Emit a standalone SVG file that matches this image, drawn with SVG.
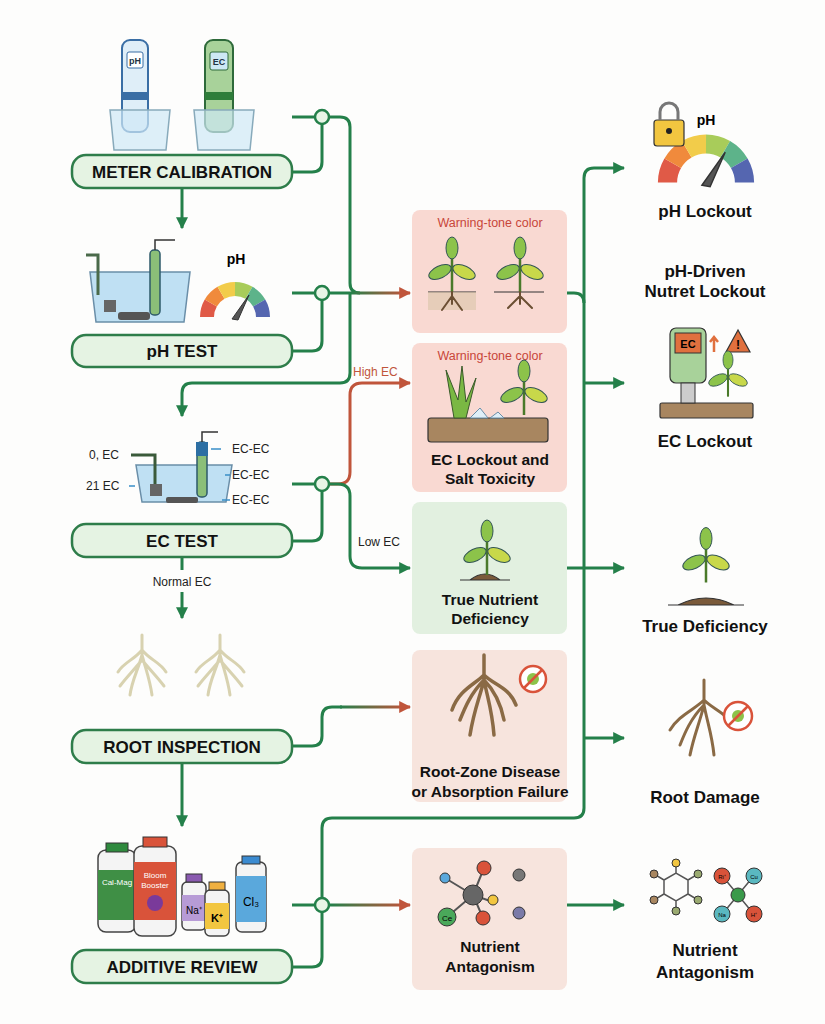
<svg xmlns="http://www.w3.org/2000/svg" width="825" height="1024" viewBox="0 0 825 1024">
<style>
.pill{fill:#e5f3e3;stroke:#2e7d4a;stroke-width:2.5}
.pt{font-family:"Liberation Sans",Arial,sans-serif;font-weight:bold;font-size:17px;fill:#111;text-anchor:middle}
.bt{font-family:"Liberation Sans",Arial,sans-serif;font-weight:bold;font-size:15.5px;fill:#111;text-anchor:middle}
.rt{font-family:"Liberation Sans",Arial,sans-serif;font-weight:bold;font-size:17px;fill:#111;text-anchor:middle}
.warn{font-family:"Liberation Sans",Arial,sans-serif;font-size:12.5px;fill:#c8463a;text-anchor:middle}
.sm{font-family:"Liberation Sans",Arial,sans-serif;font-size:12px;fill:#222}
.g{fill:none;stroke:#24804a;stroke-width:3}
.r{fill:none;stroke:#c0553b;stroke-width:3}
.jn{fill:#e8f5e6;stroke:#24804a;stroke-width:2.5}
.root{fill:none;stroke:#6b4f33;stroke-width:2;stroke-linecap:round}
.wroot{fill:none;stroke:#d8d2b0;stroke-width:3;stroke-linecap:round}
</style>
<defs>
<marker id="ag" viewBox="0 0 10 10" refX="9" refY="5" markerWidth="4" markerHeight="4" orient="auto"><path d="M0,0L10,5L0,10z" fill="#24804a"/></marker>
<marker id="ar" viewBox="0 0 10 10" refX="9" refY="5" markerWidth="4" markerHeight="4" orient="auto"><path d="M0,0L10,5L0,10z" fill="#c0553b"/></marker>
<linearGradient id="gr1" gradientUnits="userSpaceOnUse" x1="350" x2="405" y1="0" y2="0"><stop offset="0" stop-color="#24804a"/><stop offset="1" stop-color="#c0553b"/></linearGradient>
<linearGradient id="gr2" gradientUnits="userSpaceOnUse" x1="340" x2="405" y1="0" y2="0"><stop offset="0" stop-color="#24804a"/><stop offset="1" stop-color="#c0553b"/></linearGradient>
<linearGradient id="gr3" gradientUnits="userSpaceOnUse" x1="330" x2="405" y1="0" y2="0"><stop offset="0" stop-color="#24804a"/><stop offset="1" stop-color="#c0553b"/></linearGradient>
<symbol id="gauge" viewBox="-36 -36 72 40" overflow="visible">
<g fill="none" stroke-width="14">
<path d="M-28,0A28,28 0 0 1 -24.2,-14" stroke="#e05a47"/>
<path d="M-24.2,-14A28,28 0 0 1 -14,-24.2" stroke="#f08a3c"/>
<path d="M-14,-24.2A28,28 0 0 1 0,-28" stroke="#f2cc4a"/>
<path d="M0,-28A28,28 0 0 1 14,-24.2" stroke="#a8cc5a"/>
<path d="M14,-24.2A28,28 0 0 1 24.2,-14" stroke="#5db38a"/>
<path d="M24.2,-14A28,28 0 0 1 28,0" stroke="#5566b0"/>
</g>
<path d="M-3,2L14,-22L3,3z" fill="#555" stroke="#333"/>
</symbol>
<symbol id="plant" viewBox="-30 -50 60 60" overflow="visible">
<path d="M0,0V-40" stroke="#4a7a2a" stroke-width="2.5"/>
<ellipse cx="-12" cy="-20" rx="12" ry="6" transform="rotate(-25 -12 -20)" fill="#8cc34a" stroke="#355" stroke-width="1"/>
<ellipse cx="12" cy="-20" rx="12" ry="6" transform="rotate(25 12 -20)" fill="#c8d84a" stroke="#355" stroke-width="1"/>
<ellipse cx="0" cy="-44" rx="6" ry="11" fill="#8cc34a" stroke="#355" stroke-width="1"/>
</symbol>
</defs>

<rect width="825" height="1024" fill="#fdfdfc"/>

<g id="connectors">
<path class="g" d="M182,188V228" marker-end="url(#ag)"/>
<path class="g" d="M292,117H315M329,117H340Q350,117 350,127V283Q350,293 360,293"/>
<path class="g" d="M292,172H312Q322,172 322,162V124"/>
<path class="g" d="M292,293H315M329,293H350"/>
<path class="g" d="M292,351H312Q322,351 322,341V300"/>
<path d="M350,293H410" fill="none" stroke="url(#gr1)" stroke-width="3" marker-end="url(#ar)"/>
<path class="g" d="M350,293V373Q350,383 340,383H192Q182,383 182,393V416" marker-end="url(#ag)"/>
<path class="g" d="M292,484H315"/>
<path class="g" d="M292,541H312Q322,541 322,531V491"/>
<path class="r" d="M329,484H338Q350,484 350,472V395Q350,383 362,383H410" marker-end="url(#ar)"/>
<path class="g" d="M329,484H338Q350,484 350,496V556Q350,568 362,568H410" marker-end="url(#ag)"/>
<path class="g" d="M182,557V570M182,592V618" marker-end="url(#ag)"/>
<path class="g" d="M292,746H312Q322,746 322,736V717Q322,707 332,707H342"/>
<path d="M340,707H410" fill="none" stroke="url(#gr2)" stroke-width="3" marker-end="url(#ar)"/>
<path class="g" d="M182,763V826" marker-end="url(#ag)"/>
<path class="g" d="M292,905H315"/>
<path d="M329,905H410" fill="none" stroke="url(#gr3)" stroke-width="3" marker-end="url(#ar)"/>
<path class="g" d="M292,967H312Q322,967 322,957V912"/>
<path class="g" d="M322,898V828Q322,818 332,818H574Q584,818 584,808V178Q584,168 594,168H624" marker-end="url(#ag)"/>
<path class="g" d="M567,293H574Q584,293 584,303"/>
<path class="g" d="M584,383H624" marker-end="url(#ag)"/>
<path class="g" d="M567,568H624" marker-end="url(#ag)"/>
<path class="g" d="M584,738H624" marker-end="url(#ag)"/>
<path class="g" d="M567,905H624" marker-end="url(#ag)"/>
<circle class="jn" cx="322" cy="117" r="7"/>
<circle class="jn" cx="322" cy="293" r="7"/>
<circle class="jn" cx="322" cy="484" r="7"/>
<circle class="jn" cx="322" cy="905" r="7"/>
<text class="sm" x="353" y="376" style="fill:#c0553b">High EC</text>
<text class="sm" x="358" y="546">Low EC</text>
<text class="sm" x="182" y="586" text-anchor="middle">Normal EC</text>
</g>

<g id="meter-calibration">
<rect x="122" y="40" width="26" height="92" rx="8" fill="#dfeef8" stroke="#3a6ea5" stroke-width="2"/>
<rect x="127" y="52" width="16" height="16" rx="2" fill="#fff" stroke="#3a6ea5"/>
<text x="135" y="64" font-family="Liberation Sans,sans-serif" font-size="9" font-weight="bold" text-anchor="middle" fill="#234">pH</text>
<rect x="122" y="92" width="26" height="8" fill="#3a6ea5"/>
<path d="M110,110h60l-4,40h-52z" fill="#cfe8f6" fill-opacity="0.7" stroke="#8ab" stroke-width="1.5"/>
<rect x="205" y="40" width="28" height="92" rx="8" fill="#a8d29a" stroke="#2e6a3a" stroke-width="2"/>
<rect x="210" y="52" width="18" height="18" rx="2" fill="#cde8f4" stroke="#2e6a3a"/>
<text x="219" y="65" font-family="Liberation Sans,sans-serif" font-size="9" font-weight="bold" text-anchor="middle" fill="#234">EC</text>
<rect x="205" y="92" width="28" height="8" fill="#2e7d3a"/>
<path d="M194,110h60l-4,40h-52z" fill="#cfe8f6" fill-opacity="0.7" stroke="#8ab" stroke-width="1.5"/>
<rect x="72" y="155" width="220" height="33" rx="14" class="pill"/>
<text class="pt" x="182" y="178">METER CALIBRATION</text>
</g>

<g id="ph-test">
<path d="M90,272h100l-6,50h-88z" fill="#bfe0f3" stroke="#6a8ea8" stroke-width="1.5"/>
<path d="M86,255h12v40" fill="none" stroke="#4a6a4a" stroke-width="3"/>
<rect x="104" y="300" width="12" height="12" fill="#666"/>
<rect x="118" y="312" width="32" height="8" rx="3" fill="#555"/>
<rect x="150" y="250" width="10" height="65" rx="4" fill="#8bbf78" stroke="#2e5a6a" stroke-width="1.5"/>
<path d="M155,250v-10h20" fill="none" stroke="#333" stroke-width="1.5"/>
<use href="#gauge" x="199" y="281" width="72" height="40"/>
<text x="236" y="264" font-family="Liberation Sans,sans-serif" font-size="14" font-weight="bold" text-anchor="middle">pH</text>
<rect x="72" y="335" width="220" height="32" rx="14" class="pill"/>
<text class="pt" x="182" y="357">pH TEST</text>
</g>

<g id="ec-test">
<path d="M136,465h96l-6,37h-84z" fill="#bfe0f3" stroke="#6a8ea8" stroke-width="1.5"/>
<path d="M131,455h24v30" fill="none" stroke="#3a5a3a" stroke-width="3"/>
<rect x="150" y="484" width="12" height="12" fill="#666"/>
<rect x="166" y="497" width="32" height="6" rx="2" fill="#555"/>
<rect x="197" y="442" width="10" height="55" rx="4" fill="#8bbf78" stroke="#2e5a6a" stroke-width="1.5"/>
<rect x="196" y="442" width="12" height="14" fill="#2d6fa3"/>
<path d="M202,442v-10h16" fill="none" stroke="#333" stroke-width="1.5"/>
<text class="sm" x="89" y="459" font-size="13">0, EC</text>
<text class="sm" x="86" y="490" font-size="13">21 EC</text>
<path d="M129,486h6M211,449h10M225,475h5M222,500h8" stroke="#3a8ec8" stroke-width="1.5"/>
<text class="sm" x="232" y="453" font-size="13">EC-EC</text>
<text class="sm" x="232" y="479" font-size="13">EC-EC</text>
<text class="sm" x="232" y="504" font-size="13">EC-EC</text>
<rect x="72" y="524" width="220" height="33" rx="14" class="pill"/>
<text class="pt" x="182" y="547">EC TEST</text>
</g>

<g id="root-inspection">
<path class="wroot" d="M142,635v20M142,650c-8,10-18,12-24,22M142,650c8,10 18,12 24,22M142,655c-4,15-10,25-12,40M142,655c4,15 8,25 10,40M142,660c-10,12-16,18-22,26M142,660c10,12 16,18 22,26"/>
<path class="wroot" d="M220,635v20M220,650c-8,10-18,12-24,22M220,650c8,10 18,12 24,22M220,655c-4,15-10,25-12,40M220,655c4,15 8,25 10,40M220,660c-10,12-16,18-22,26M220,660c10,12 16,18 22,26"/>
<rect x="72" y="730" width="220" height="33" rx="14" class="pill"/>
<text class="pt" x="182" y="753">ROOT INSPECTION</text>
</g>

<g id="additive-review">
<rect x="98" y="850" width="38" height="82" rx="8" fill="#f4f4f4" stroke="#444" stroke-width="1.5"/>
<rect x="106" y="843" width="22" height="9" fill="#2f8a3e" stroke="#333"/>
<rect x="98" y="870" width="38" height="50" fill="#3f8f45"/>
<text x="117" y="885" font-family="Liberation Sans,sans-serif" font-size="8" fill="#fff" text-anchor="middle">Cal-Mag</text>
<rect x="134" y="846" width="42" height="90" rx="8" fill="#f4f4f4" stroke="#444" stroke-width="1.5"/>
<rect x="143" y="837" width="24" height="10" fill="#d9533a" stroke="#333"/>
<rect x="134" y="862" width="42" height="58" fill="#d9533a"/>
<text x="155" y="878" font-family="Liberation Sans,sans-serif" font-size="8" fill="#fff" text-anchor="middle">Bloom</text>
<text x="155" y="888" font-family="Liberation Sans,sans-serif" font-size="8" fill="#fff" text-anchor="middle">Booster</text>
<circle cx="155" cy="903" r="8" fill="#7a3a9a"/>
<rect x="182" y="882" width="24" height="48" rx="5" fill="#f4f4f4" stroke="#444" stroke-width="1.5"/>
<rect x="186" y="874" width="16" height="8" fill="#8a5ab0" stroke="#333"/>
<rect x="182" y="895" width="24" height="26" fill="#b79bd6"/>
<text x="194" y="914" font-family="Liberation Sans,sans-serif" font-size="10" text-anchor="middle">Na⁺</text>
<rect x="205" y="890" width="24" height="46" rx="5" fill="#f4f4f4" stroke="#444" stroke-width="1.5"/>
<rect x="209" y="882" width="16" height="8" fill="#f0b040" stroke="#333"/>
<rect x="205" y="903" width="24" height="26" fill="#f2c640"/>
<text x="217" y="922" font-family="Liberation Sans,sans-serif" font-size="11" font-weight="bold" text-anchor="middle">K⁺</text>
<rect x="236" y="862" width="30" height="70" rx="6" fill="#f4f4f4" stroke="#444" stroke-width="1.5"/>
<rect x="242" y="856" width="18" height="8" fill="#3a8ad0" stroke="#333"/>
<rect x="236" y="876" width="30" height="46" fill="#5aa8dc"/>
<text x="251" y="906" font-family="Liberation Sans,sans-serif" font-size="12" text-anchor="middle">Cl₃</text>
<rect x="72" y="950" width="220" height="33" rx="14" class="pill"/>
<text class="pt" x="182" y="973">ADDITIVE REVIEW</text>
</g>

<g id="warning-ph">
<rect x="412" y="210" width="155" height="123" rx="8" fill="#f9d9d2"/>
<text class="warn" x="490" y="227">Warning-tone color</text>
<path d="M428,292h48M494,292h50" stroke="#333" stroke-width="1.2"/>
<rect x="428" y="292" width="48" height="18" fill="#d8c4a8" opacity="0.6"/>
<use href="#plant" x="422" y="242" width="60" height="60"/>
<use href="#plant" x="490" y="242" width="60" height="60"/>
<path class="root" d="M452,292v12M452,296l-10,14M452,296l10,14M520,292v12M520,296l-12,12M520,296l12,12"/>
</g>

<g id="warning-ec">
<rect x="412" y="343" width="155" height="149" rx="8" fill="#f9d9d2"/>
<text class="warn" x="490" y="360">Warning-tone color</text>
<rect x="428" y="418" width="120" height="24" rx="3" fill="#a88660" stroke="#333" stroke-width="1.2"/>
<path d="M470,418l10,-10l8,10zM490,418l8,-6l6,6z" fill="#dfeff8" stroke="#6a8ea8"/>
<path d="M454,418l-8,-48l12,30l4,-34l4,36l10,-24l-10,40z" fill="#7ab843" stroke="#3a5a2a" stroke-width="1"/>
<use href="#plant" x="494" y="365" width="60" height="60"/>
<text class="bt" x="490" y="465">EC Lockout and</text>
<text class="bt" x="490" y="484">Salt Toxicity</text>
</g>

<g id="true-nutrient">
<rect x="412" y="502" width="155" height="132" rx="8" fill="#e2f0e0"/>
<path d="M460,580h50M470,580q15,-12 30,0" fill="#7a5a3a" stroke="#333" stroke-width="1.2"/>
<use href="#plant" x="457" y="525" width="60" height="60"/>
<text class="bt" x="490" y="605">True Nutrient</text>
<text class="bt" x="490" y="624">Deficiency</text>
</g>

<g id="root-zone">
<rect x="412" y="650" width="155" height="152" rx="8" fill="#f7e4dd"/>
<path d="M484,655v25M484,675c-10,10-25,15-32,35M484,675c10,10 25,12 32,30M484,680c-5,20-10,30-14,55M484,680c4,20 8,30 10,55M484,680c-14,14-20,30-24,40M484,680c14,14 18,30 20,40" fill="none" stroke="#8a6a45" stroke-width="3.5" stroke-linecap="round"/>
<circle cx="533" cy="679" r="13" fill="#fff" stroke="#d9533a" stroke-width="2.5"/>
<circle cx="533" cy="679" r="6" fill="#8cc34a"/>
<path d="M524,688l18,-18" stroke="#d9533a" stroke-width="2.5"/>
<text class="bt" x="490" y="777">Root-Zone Disease</text>
<text class="bt" x="490" y="797">or Absorption Failure</text>
</g>

<g id="nutrient-antagonism-box">
<rect x="412" y="848" width="155" height="142" rx="8" fill="#f7e4dd"/>
<path d="M445,878L473,895M473,895L484,868M473,895L493,902M473,895L483,918M473,895L447,917" stroke="#555" stroke-width="2"/>
<circle cx="473" cy="895" r="10" fill="#666" stroke="#333"/>
<circle cx="484" cy="868" r="7" fill="#d9533a" stroke="#333"/>
<circle cx="483" cy="918" r="7" fill="#d9533a" stroke="#333"/>
<circle cx="493" cy="900" r="5" fill="#f2c640" stroke="#333"/>
<circle cx="445" cy="878" r="5" fill="#5aa8dc" stroke="#333"/>
<circle cx="447" cy="917" r="9" fill="#4aa85a" stroke="#333"/>
<text x="447" y="921" font-family="Liberation Sans,sans-serif" font-size="8" text-anchor="middle">Ce</text>
<circle cx="519" cy="875" r="6" fill="#777" stroke="#333"/>
<circle cx="519" cy="913" r="6" fill="#7a7aa8" stroke="#333"/>
<text class="bt" x="490" y="952">Nutrient</text>
<text class="bt" x="490" y="972">Antagonism</text>
</g>

<g id="ph-lockout">
<use href="#gauge" x="656" y="133" width="100" height="55"/>
<rect x="654" y="120" width="30" height="26" rx="3" fill="#f2c640" stroke="#333" stroke-width="1.2"/>
<path d="M660,120v-8a9,9 0 0 1 18,0v8" fill="none" stroke="#777" stroke-width="3"/>
<circle cx="669" cy="131" r="3" fill="#222"/>
<text x="706" y="125" font-family="Liberation Sans,sans-serif" font-size="14" font-weight="bold" text-anchor="middle">pH</text>
<text class="rt" x="705" y="217">pH Lockout</text>
</g>

<g id="ph-driven">
<text class="rt" x="705" y="277">pH-Driven</text>
<text class="rt" x="705" y="297">Nutret Lockout</text>
</g>

<g id="ec-lockout">
<rect x="660" y="403" width="93" height="15" rx="2" fill="#a88660" stroke="#333" stroke-width="1.2"/>
<rect x="670" y="328" width="36" height="55" rx="6" fill="#a8d29a" stroke="#333" stroke-width="1.2"/>
<rect x="675" y="333" width="26" height="20" fill="#e0703e" stroke="#333"/>
<text x="688" y="348" font-family="Liberation Sans,sans-serif" font-size="11" font-weight="bold" text-anchor="middle">EC</text>
<rect x="681" y="383" width="14" height="20" fill="#ccc" stroke="#333"/>
<path d="M714,352v-14M710,342l4,-5l4,5" stroke="#e0703e" stroke-width="2.5" fill="none"/>
<path d="M738,330l-12,22h24z" fill="#e0703e" stroke="#333" stroke-width="1.2"/>
<text x="738" y="349" font-family="Liberation Sans,sans-serif" font-size="12" font-weight="bold" text-anchor="middle">!</text>
<use href="#plant" x="698" y="355" width="60" height="50"/>
<text class="rt" x="705" y="447">EC Lockout</text>
</g>

<g id="true-deficiency">
<path d="M668,605h76M678,605q28,-14 56,0" fill="#7a5a3a" stroke="#333" stroke-width="1.2"/>
<use href="#plant" x="676" y="520" width="60" height="85"/>
<text class="rt" x="705" y="632">True Deficiency</text>
</g>

<g id="root-damage">
<path d="M704,680v25M704,700c-10,10-25,15-34,30M704,700c10,10 22,12 30,28M704,705c-5,20-10,30-14,50M704,705c4,20 8,30 10,50M704,705c-14,14-20,30-24,40" fill="none" stroke="#8a6a45" stroke-width="3" stroke-linecap="round"/>
<circle cx="738" cy="716" r="14" fill="#fff" stroke="#d9533a" stroke-width="2.5"/>
<circle cx="738" cy="716" r="6" fill="#8cc34a"/>
<path d="M728,726l20,-20" stroke="#d9533a" stroke-width="2.5"/>
<text class="rt" x="705" y="803">Root Damage</text>
</g>

<g id="nutrient-antagonism">
<path d="M664,880l12,-7l12,7v14l-12,7l-12,-7zM676,873v-10M688,880l10,-6M688,894l10,6M676,901v10M664,894l-10,6M664,880l-10,-6" fill="none" stroke="#555" stroke-width="1.5"/>
<circle cx="676" cy="863" r="4" fill="#f2c640" stroke="#333"/>
<circle cx="698" cy="874" r="4" fill="#9aaa70" stroke="#333"/>
<circle cx="698" cy="900" r="4" fill="#9aaa70" stroke="#333"/>
<circle cx="676" cy="911" r="4" fill="#9aaa70" stroke="#333"/>
<circle cx="654" cy="900" r="4" fill="#a88660" stroke="#333"/>
<circle cx="654" cy="874" r="4" fill="#a88660" stroke="#333"/>
<path d="M738,895L724,878M738,895L752,878M738,895L724,912M738,895L752,912" stroke="#555" stroke-width="1.5"/>
<circle cx="738" cy="895" r="7" fill="#3a9a4a" stroke="#333"/>
<circle cx="722" cy="876" r="8" fill="#d9533a" stroke="#333"/>
<circle cx="754" cy="876" r="8" fill="#5ab8c0" stroke="#333"/>
<circle cx="722" cy="914" r="8" fill="#5ab8c0" stroke="#333"/>
<circle cx="754" cy="914" r="8" fill="#d9533a" stroke="#333"/>
<text x="722" y="879" font-family="Liberation Sans,sans-serif" font-size="6" text-anchor="middle">Ri⁺</text>
<text x="754" y="879" font-family="Liberation Sans,sans-serif" font-size="6" text-anchor="middle">Cu</text>
<text x="722" y="917" font-family="Liberation Sans,sans-serif" font-size="6" text-anchor="middle">Na</text>
<text x="754" y="917" font-family="Liberation Sans,sans-serif" font-size="6" text-anchor="middle">H⁺</text>
<text class="rt" x="705" y="956">Nutrient</text>
<text class="rt" x="705" y="978">Antagonism</text>
</g>
</svg>
